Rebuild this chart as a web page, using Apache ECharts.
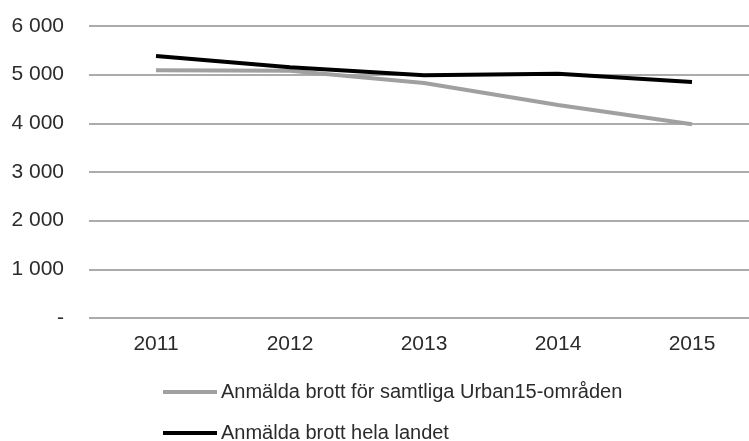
<!DOCTYPE html>
<html>
<head>
<meta charset="utf-8">
<script src="https://cdn.jsdelivr.net/npm/echarts@6/dist/echarts.min.js"></script>
<style>
  html, body { margin: 0; padding: 0; background: #fff; }
  #chart { width: 749px; height: 441px; }
</style>
</head>
<body>
<div id="chart"></div>
<script>
const years = ["2011", "2012", "2013", "2014", "2015"];
const urban15 = [5090, 5080, 4830, 4375, 3980];
const helaLandet = [5385, 5150, 4990, 5020, 4850];
const seriesNames = [
	"Anmälda brott för samtliga Urban15-områden",
	"Anmälda brott hela landet",
];

const fontFamily = "'Liberation Sans', Arial, sans-serif";
const textColor = "#2b2b2b";

function formatTick(value) {
	if (value === 0) return "-";
	// tusentalsavgränsare med mellanslag
	return String(value).replace(/\B(?=(\d{3})+(?!\d))/g, " ");
}

// en legend per rad, så att de hamnar under varandra
function makeLegend(name, top) {
	return {
		left: 163,
		top: top,
		padding: 0,
		icon: "rect",
		itemWidth: 54,
		itemHeight: 4,
		data: [name],
		textStyle: {
			fontFamily: fontFamily,
			fontSize: 20,
			color: textColor,
			padding: [0, 0, 0, -1],
		},
	};
}

const chart = echarts.init(document.getElementById("chart"));

const option = {
	animation: false,
	grid: {
		left: 89,
		width: 670,
		top: 26,
		bottom: 123,
		outerBoundsMode: "none",
	},
	legend: [makeLegend(seriesNames[0], 382), makeLegend(seriesNames[1], 423)],
	xAxis: {
		type: "category",
		data: years,
		boundaryGap: true,
		axisLine: { show: false },
		axisTick: { show: false },
		axisLabel: {
			fontFamily: fontFamily,
			fontSize: 21,
			color: textColor,
			margin: 16,
		},
	},
	yAxis: {
		type: "value",
		min: 0,
		max: 6000,
		interval: 1000,
		axisLine: { show: false },
		axisTick: { show: false },
		axisLabel: {
			fontFamily: fontFamily,
			fontSize: 21,
			color: textColor,
			margin: 25,
			formatter: formatTick,
		},
		splitLine: {
			lineStyle: { color: "#acacac", width: 2 },
		},
	},
	series: [
		{
			name: seriesNames[0],
			type: "line",
			data: urban15,
			symbol: "none",
			lineStyle: { color: "#a0a0a0", width: 4 },
			itemStyle: { color: "#a0a0a0" },
		},
		{
			name: seriesNames[1],
			type: "line",
			data: helaLandet,
			symbol: "none",
			lineStyle: { color: "#000", width: 4 },
			itemStyle: { color: "#000" },
		},
	],
};

chart.setOption(option);
</script>
</body>
</html>
